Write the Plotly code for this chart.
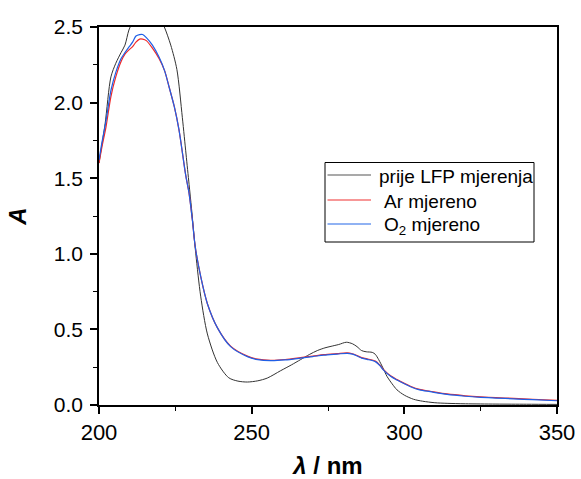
import plotly.graph_objects as go

# Wavelength (nm) and absorbance readings
wl_before = [200, 200.7, 202, 203.9, 205.5, 207.2, 208.5, 209.8, 211, 213, 216, 219, 221.4, 223.5,
             225.5, 227.3, 228.5, 229.5, 230.3, 231.7, 233.3, 235.5, 238.8, 242.5, 245.5,
             248.6, 252, 255.1, 259.5, 263, 266, 269, 271.5, 274, 276, 278.5, 281, 283, 284.5,
             286, 287.5, 289.5, 290.5, 291.6, 293, 294.3, 296, 297.6, 300, 303, 306, 310, 314,
             320, 330, 340, 350]
a_before = [1.60, 1.69, 1.86, 2.17, 2.26, 2.33, 2.38, 2.48, 2.53, 2.58, 2.62, 2.60, 2.50, 2.38,
            2.22, 1.90, 1.66, 1.46, 1.30, 1.00, 0.72, 0.47, 0.28, 0.18, 0.158,
            0.152, 0.16, 0.178, 0.227, 0.265, 0.30, 0.335, 0.36, 0.378, 0.388, 0.40, 0.415, 0.405, 0.386,
            0.36, 0.352, 0.348, 0.335, 0.30, 0.245, 0.19, 0.14, 0.10, 0.065, 0.038, 0.025, 0.015, 0.011,
            0.008, 0.006, 0.005, 0.004]

wl_meas = [200, 201, 202.3, 203.9, 205.5, 207.2, 208.5, 209.9, 211, 212.1, 213.3, 214.3, 215.5,
           217.5, 219.7, 221.5, 223, 224.7, 226.2, 228.4, 229.5, 230.6, 231.5, 233.3, 235.5, 238.8,
           243.1, 248.6, 252, 256.2, 261, 266, 270, 273.6, 278, 281.3, 283, 284.5, 286, 287.8,
           290.5, 292, 293.2, 295.5, 297.6, 300, 302, 305, 308.5, 314, 320, 325, 330, 335.8, 342, 350]
a_ar = [1.60, 1.71, 1.84, 2.04, 2.17, 2.27, 2.32, 2.35, 2.37, 2.40, 2.42, 2.42, 2.41,
        2.36, 2.29, 2.21, 2.10, 1.97, 1.82, 1.52, 1.40, 1.22, 1.05, 0.85, 0.67, 0.51,
        0.389, 0.323, 0.303, 0.296, 0.301, 0.313, 0.323, 0.333, 0.340, 0.345, 0.339, 0.327, 0.313, 0.305,
        0.290, 0.263, 0.234, 0.193, 0.168, 0.143, 0.124, 0.103, 0.091, 0.073, 0.061, 0.054, 0.049, 0.044, 0.038, 0.031]
a_o2 = [1.62, 1.74, 1.88, 2.08, 2.20, 2.29, 2.33, 2.37, 2.40, 2.44, 2.45, 2.45, 2.43,
        2.38, 2.30, 2.21, 2.10, 1.97, 1.82, 1.52, 1.40, 1.22, 1.05, 0.85, 0.67, 0.51,
        0.386, 0.32, 0.30, 0.293, 0.298, 0.31, 0.32, 0.33, 0.337, 0.342, 0.336, 0.324, 0.31, 0.302,
        0.287, 0.26, 0.231, 0.19, 0.165, 0.14, 0.121, 0.10, 0.088, 0.07, 0.058, 0.051, 0.046, 0.041, 0.035, 0.028]

names = ["prije LFP mjerenja", "Ar mjereno", "O<sub>2</sub> mjereno"]
colors = ["#333333", "#f02828", "#1f5fe6"]
legend_colors = ["#555555", "#f03030", "#2266e8"]

FONT = "Liberation Sans, Arial"

fig = go.Figure()
fig.add_trace(go.Scatter(x=wl_before, y=a_before, mode="lines", name=names[0], showlegend=False,
                         line=dict(color=colors[0], width=1, shape="spline", smoothing=0.8)))
fig.add_trace(go.Scatter(x=wl_meas, y=a_ar, mode="lines", name=names[1], showlegend=False,
                         line=dict(color=colors[1], width=1.2, shape="spline", smoothing=0.8)))
fig.add_trace(go.Scatter(x=wl_meas, y=a_o2, mode="lines", name=names[2], showlegend=False,
                         line=dict(color=colors[2], width=1.2, shape="spline", smoothing=0.8)))

axis_common = dict(showgrid=False, zeroline=False, showline=True, linecolor="black", linewidth=1.5,
                   mirror=True, ticks="outside", ticklen=7, tickwidth=1.5, tickcolor="black",
                   automargin=False)

fig.update_xaxes(range=[200, 350], tick0=200, dtick=50,
                 tickfont=dict(family=FONT, size=22, color="black"),
                 minor=dict(ticks="outside", ticklen=4, tickwidth=1.2, tickcolor="black", dtick=25),
                 title=dict(text="<b><i>λ</i> / nm</b>", standoff=17,
                            font=dict(family=FONT, size=24, color="black")),
                 **axis_common)
fig.update_yaxes(range=[0, 2.5], tick0=0, dtick=0.5, tickformat=".1f",
                 tickfont=dict(family=FONT, size=21, color="black"), ticklabelstandoff=3,
                 minor=dict(ticks="outside", ticklen=4, tickwidth=1.2, tickcolor="black", dtick=0.25),
                 title=dict(text="<b><i>A</i></b>", standoff=20,
                            font=dict(family=FONT, size=24, color="black")),
                 **axis_common)

# Hand-built legend box (positions in plot-area pixels)
PL, PT, PW, PH = 99, 27, 458, 378
def px(x):
    return (x - PL) / PW
def py(y):
    return (PT + PH - y) / PH

shapes = [dict(type="rect", xref="paper", yref="paper", x0=px(325), x1=px(534), y0=py(242), y1=py(162.5),
               line=dict(color="black", width=1), fillcolor="white", layer="above")]
row_y = [175, 200, 224]
text_x = [377, 382, 382]
annotations = []
for i in range(3):
    shapes.append(dict(type="line", xref="paper", yref="paper", x0=px(327.5), x1=px(371),
                       y0=py(row_y[i]), y1=py(row_y[i]),
                       line=dict(color=legend_colors[i], width=1.2), layer="above"))
    annotations.append(dict(text=names[i], xref="paper", yref="paper", x=px(text_x[i]), y=py(row_y[i] + 1.5),
                            xanchor="left", yanchor="middle", showarrow=False,
                            font=dict(family=FONT, size=19, color="black")))

fig.update_layout(
    width=581, height=479,
    margin=dict(l=PL, r=581 - PL - PW, t=PT, b=479 - PT - PH),
    paper_bgcolor="white", plot_bgcolor="white",
    showlegend=False,
    shapes=shapes,
    annotations=annotations,
)

fig.write_html("out.html", config={"displayModeBar": False},
               post_script="document.body.style.margin='0';")
